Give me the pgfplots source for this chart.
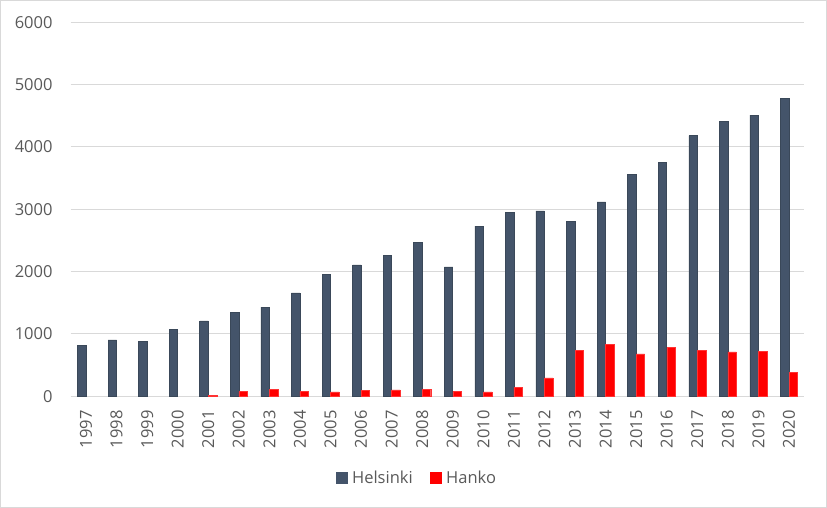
\documentclass[border=0pt]{standalone}
\usepackage{pgfplots}
\pgfplotsset{compat=1.18}
\usepackage{fontspec}
\setmainfont{Open Sans}
\definecolor{hel}{HTML}{44546A}
\definecolor{heledge}{HTML}{3A4859}
\definecolor{han}{HTML}{FF0000}
\definecolor{gridc}{HTML}{D9D9D9}
\definecolor{txt}{HTML}{595959}
\begin{document}
\begin{tikzpicture}
\useasboundingbox (-70.7bp,-111.7bp) rectangle (756.3bp,396.3bp);
\draw[gridc, line width=1.5bp] (-69.95bp,-110.95bp) rectangle (755.55bp,395.55bp);
\begin{axis}[
  at={(0,0)}, anchor=south west,
  scale only axis, width=733.6bp, height=374bp,
  ymin=0, ymax=6000, ytick={0,1000,...,6000},
  xmin=-0.5, xmax=23.5,
  xtick={0,...,23},
  xticklabels={1997,1998,1999,2000,2001,2002,2003,2004,2005,2006,2007,2008,2009,2010,2011,2012,2013,2014,2015,2016,2017,2018,2019,2020},
  ybar=0pt, bar width=8.5bp,
  axis line style={draw=none},
  major tick length=0pt,
  ymajorgrids, major grid style={gridc, line width=1bp},
  tick label style={font=\fontsize{16.5bp}{20bp}\selectfont, text=txt},
  /pgf/number format/assume math mode=true,
  /pgf/number format/1000 sep={},
  yticklabel style={inner sep=0pt, anchor=east},
  yticklabel shift=18bp,
  xticklabel style={inner sep=0pt, rotate=90, anchor=east},
  xticklabel shift=14bp,
  legend columns=2,
  legend style={at={(0.4718,-0.219)}, anchor=center, draw=none, fill=none,
    font=\fontsize{16.5bp}{20bp}\selectfont, text=txt,
    /tikz/every even column/.append style={column sep=15bp}},
  legend image code/.code={\fill[#1, draw=none] (0bp,-6bp) rectangle (12bp,6bp); \path[draw=none, fill=none] (0bp,0bp) -- (14.5bp,0bp);},
]
\addplot[fill=hel, draw=heledge, line width=0.6bp] coordinates {
(0,812) (1,904) (2,876) (3,1069) (4,1209) (5,1348) (6,1429) (7,1658) (8,1958) (9,2108) (10,2263) (11,2465)
(12,2075) (13,2729) (14,2953) (15,2974) (16,2809) (17,3119) (18,3557) (19,3750) (20,4183) (21,4414) (22,4510) (23,4783)};
\addplot[fill=han, draw=han!80!white, line width=0.4bp] coordinates {
(4,15) (5,75) (6,112) (7,80) (8,70) (9,91) (10,102) (11,107)
(12,80) (13,70) (14,139) (15,294) (16,733) (17,829) (18,679) (19,786) (20,738) (21,711) (22,722) (23,385)};
\legend{Helsinki,Hanko}
\end{axis}
\end{tikzpicture}
\end{document}
